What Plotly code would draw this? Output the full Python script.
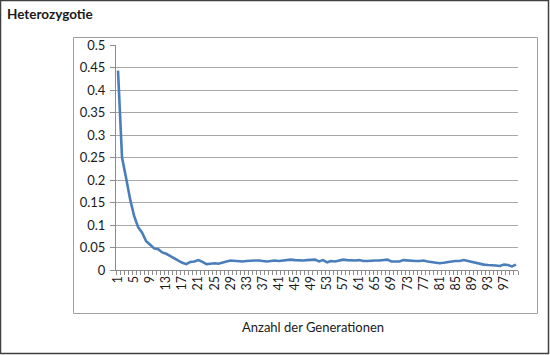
import plotly.graph_objects as go

generations = list(range(1, 101))
heterozygosity = [
    0.443, 0.250, 0.205, 0.158, 0.120, 0.095, 0.083, 0.064, 0.056, 0.048,
    0.046, 0.039, 0.036, 0.031, 0.027, 0.021, 0.016, 0.013, 0.018, 0.019,
    0.022, 0.018, 0.013, 0.014, 0.015, 0.014, 0.017, 0.019, 0.021, 0.020,
    0.019, 0.019, 0.020, 0.021, 0.021, 0.021, 0.020, 0.019, 0.020, 0.021,
    0.020, 0.021, 0.022, 0.023, 0.022, 0.021, 0.021, 0.022, 0.022, 0.023,
    0.019, 0.022, 0.017, 0.020, 0.019, 0.021, 0.023, 0.022, 0.021, 0.021,
    0.022, 0.020, 0.020, 0.021, 0.021, 0.021, 0.022, 0.023, 0.019, 0.019,
    0.019, 0.022, 0.021, 0.020, 0.020, 0.020, 0.021, 0.019, 0.018, 0.016,
    0.015, 0.016, 0.018, 0.019, 0.020, 0.020, 0.022, 0.020, 0.017, 0.015,
    0.013, 0.012, 0.011, 0.011, 0.010, 0.009, 0.012, 0.011, 0.008, 0.012,
]
x_tick_labels = [str(v) for v in range(1, 101, 4)]
y_tick_values = [round(0.05 * i, 2) for i in range(11)]
y_tick_labels = ["0", "0.05", "0.1", "0.15", "0.2", "0.25", "0.3", "0.35", "0.4", "0.45", "0.5"]

W, H = 550, 355
L, R, T, B = 116, 518, 45, 270  # plot area in pixels

def px(x):
    return (x - L) / (R - L)

def py(y):
    return (B - y) / (B - T)

FONT = "Lato, 'Open Sans', sans-serif"

fig = go.Figure()
fig.add_trace(go.Scatter(
    x=generations, y=heterozygosity, mode="lines",
    line=dict(color="#4a7ebb", width=2.6),
    hoverinfo="skip", showlegend=False,
))

fig.update_layout(
    width=W, height=H,
    margin=dict(l=L, r=W - R, t=T, b=H - B),
    paper_bgcolor="white", plot_bgcolor="white",
    font=dict(family=FONT, size=11, color="#1a1a1a"),
    xaxis=dict(
        range=[0.5, 100.5],
        tickmode="array",
        tickvals=[int(v) for v in x_tick_labels],
        ticktext=x_tick_labels,
        tickangle=-90,
        ticks="", ticklen=0,
        showgrid=False, zeroline=False,
        showline=True, linecolor="#8c8c8c", linewidth=1,
        minor=dict(ticks="outside", tick0=0.5, dtick=1, ticklen=4,
                   tickcolor="#8c8c8c", tickwidth=1, showgrid=False),
        tickfont=dict(size=12.5, family=FONT, color="#1a1a1a"),
        fixedrange=True,
    ),
    yaxis=dict(
        range=[0, 0.5],
        tickmode="array",
        tickvals=y_tick_values,
        ticktext=y_tick_labels,
        ticks="outside", ticklen=5, tickcolor="#8c8c8c",
        showgrid=True, gridcolor="#a8a8a8", gridwidth=1,
        zeroline=False,
        showline=True, linecolor="#8c8c8c", linewidth=1,
        tickfont=dict(size=13, family=FONT, color="#1a1a1a"),
        ticklabelstandoff=2,
        fixedrange=True,
    ),
    shapes=[
        # outer chart border
        dict(type="rect", xref="paper", yref="paper",
             x0=px(0.5), x1=px(W - 1.5), y0=py(0.5), y1=py(H - 1.5),
             line=dict(color="#404040", width=1.5), fillcolor="rgba(0,0,0,0)", layer="below"),
        # plot area border
        dict(type="rect", xref="paper", yref="paper",
             x0=px(73.5), x1=px(537.5), y0=py(37.5), y1=py(313.5),
             line=dict(color="#a0a0a0", width=1), fillcolor="rgba(0,0,0,0)", layer="below"),
    ],
    annotations=[
        dict(text="Heterozygotie", xref="paper", yref="paper",
             x=px(5), y=py(14), xanchor="left", yanchor="middle",
             showarrow=False, font=dict(size=13.5, family=FONT, color="#1a1a1a", weight="bold")),
        dict(text="Anzahl der Generationen", xref="paper", yref="paper",
             x=px(313), y=py(327), xanchor="center", yanchor="middle",
             showarrow=False, font=dict(size=13, family=FONT, color="#1a1a1a")),
    ],
)

fig.write_html("out.html")
